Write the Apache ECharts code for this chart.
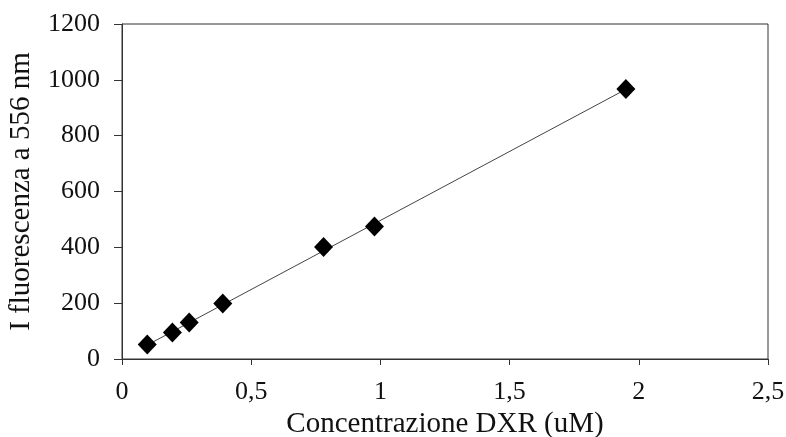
<!DOCTYPE html>
<html>
<head>
<meta charset="utf-8">
<script src="https://cdn.jsdelivr.net/npm/echarts@6/dist/echarts.min.js"></script>
<style>
  html, body { margin: 0; padding: 0; background: #fff; }
  #chart { width: 786px; height: 437px; }
</style>
</head>
<body>
<div id="chart"></div>
<script>
// DXR concentration (uM) and fluorescence intensity at 556 nm
const concentrations = [0.0977, 0.195, 0.26, 0.39, 0.78, 0.977, 1.95];
const intensities = [52, 95, 131, 199, 401, 475, 967];

// Linear trend line endpoints
const trendX = [0.0977, 1.95];
const trendY = [50, 966];

const xTicks = ['0', '0,5', '1', '1,5', '2', '2,5'];

const serif = '"Liberation Serif", "Times New Roman", serif';

const chart = echarts.init(document.getElementById('chart'), null, { renderer: 'canvas' });

chart.setOption({
  animation: false,
  backgroundColor: '#ffffff',
  grid: {
    left: 122, right: 18, top: 24, bottom: 78,
    containLabel: false,
    outerBoundsMode: 'none',
    show: true, borderColor: '#333', borderWidth: 1
  },
  xAxis: {
    type: 'value',
    min: 0, max: 2.5, interval: 0.5,
    name: 'Concentrazione DXR (uM)',
    nameLocation: 'middle',
    nameGap: 46,
    nameTextStyle: { fontFamily: serif, fontSize: 29, color: '#111' },
    axisLine: { show: true, lineStyle: { color: '#333', width: 1 } },
    axisTick: { show: true, inside: false, length: 6, lineStyle: { color: '#333' } },
    axisLabel: {
      fontFamily: serif, fontSize: 26, color: '#111', margin: 20,
      formatter: v => xTicks[Math.round(v / 0.5)]
    },
    splitLine: { show: false }
  },
  yAxis: {
    type: 'value',
    min: 0, max: 1200, interval: 200,
    name: 'I fluorescenza a 556 nm',
    nameLocation: 'middle',
    nameGap: 86,
    nameRotate: 90,
    nameTextStyle: { fontFamily: serif, fontSize: 29, color: '#111' },
    axisLine: { show: true, lineStyle: { color: '#333', width: 1 } },
    axisTick: { show: true, inside: false, length: 8, lineStyle: { color: '#333' } },
    axisLabel: {
      fontFamily: serif, fontSize: 26, color: '#111', margin: 22,
      formatter: v => String(v)
    },
    splitLine: { show: false }
  },
  series: [
    {
      type: 'line',
      data: trendX.map((x, i) => [x, trendY[i]]),
      showSymbol: false,
      symbol: 'none',
      lineStyle: { color: '#444', width: 1 },
      z: 2
    },
    {
      type: 'scatter',
      data: concentrations.map((x, i) => [x, intensities[i]]),
      symbol: 'diamond',
      symbolSize: [19, 20],
      itemStyle: { color: '#000', opacity: 1 },
      z: 3
    }
  ]
});
</script>
</body>
</html>
